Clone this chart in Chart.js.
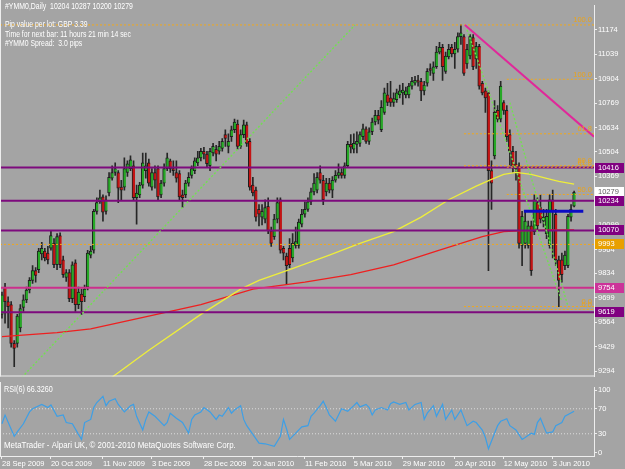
<!DOCTYPE html>
<html>
<head>
<meta charset="utf-8">
<script src="https://cdn.jsdelivr.net/npm/chart.js@4.4.1/dist/chart.umd.min.js"></script>
<style>
    body { margin: 0; background: #a4a4a4; width: 625px; height: 469px; overflow: hidden; }
    canvas { display: block; }
</style>
</head>
<body>
<canvas id="main" width="625" height="382"></canvas>
<canvas id="rsi" width="625" height="87"></canvas>
<script>
// daily bars of #YMM0, 28 Sep 2009 .. 8 Jun 2010
const opens = [9608,9758,9678,9662,9448,9448,9533,9646,9688,9742,9795,9849,9854,9940,9956,9945,9972,9999,9881,10041,
    9908,9811,9838,9694,9892,9662,9720,9705,9758,9934,9961,10175,10228,10255,10175,10276,10357,10389,10389,10308,
    10308,10389,10410,10426,10250,10266,10319,10399,10442,10308,10389,10410,10266,10330,10410,10453,10410,10389,10383,10266,
    10266,10330,10373,10399,10442,10469,10506,10490,10426,10496,10517,10506,10522,10597,10533,10586,10624,10656,10533,10597,
    10651,10560,10319,10292,10186,10143,10132,10202,10068,10036,10132,10239,9972,9929,9972,9918,9988,9988,10105,10159,
    10186,10228,10282,10292,10389,10346,10282,10330,10292,10346,10373,10389,10373,10426,10544,10517,10544,10549,10586,10629,
    10560,10613,10667,10704,10624,10720,10816,10800,10774,10790,10816,10827,10816,10816,10864,10880,10896,10891,10838,10880,
    10961,10934,10971,11051,11078,10945,11025,11078,11041,11067,11137,11137,10987,11030,11132,11014,11083,10880,10838,10827,
    10399,10480,10731,10683,10774,10731,10597,10506,10437,10426,9988,9999,9988,10095,10063,10223,10196,10121,10052,9988,
    10239,10159,9908,9908,9876,9876,10143,10204];
const highs = [9731,9779,9705,9678,9464,9608,9662,9715,9758,9811,9876,9865,9972,10004,9972,9982,10068,10025,10052,10057,
    9929,9854,9854,9897,9908,9758,9747,9769,9961,9982,10186,10250,10292,10266,10260,10389,10426,10442,10399,10346,
    10469,10453,10480,10453,10319,10335,10496,10496,10463,10410,10426,10426,10346,10437,10496,10463,10453,10453,10399,10292,
    10346,10389,10426,10469,10506,10522,10528,10506,10522,10549,10538,10560,10576,10624,10602,10645,10683,10677,10624,10677,
    10667,10576,10362,10308,10212,10212,10239,10250,10089,10159,10250,10250,9982,9945,10025,10052,10089,10132,10186,10228,
    10250,10303,10383,10389,10426,10373,10357,10357,10367,10399,10437,10410,10442,10560,10597,10602,10613,10613,10656,10640,
    10635,10688,10731,10731,10784,10854,10880,10891,10827,10848,10870,10880,10859,10880,10913,10918,10923,10907,10891,10961,
    10987,10998,11083,11105,11094,11051,11094,11094,11105,11158,11201,11148,11094,11148,11148,11105,11094,10891,10854,10838,
    10453,10784,10757,10891,10784,10757,10624,10533,10506,10442,10175,10175,10121,10121,10266,10250,10266,10186,10186,10266,
    10292,10186,9929,9945,9956,10159,10212,10287];
const lows = [9587,9560,9533,9427,9320,9427,9512,9624,9672,9726,9779,9785,9838,9908,9902,9886,9961,9865,9854,9865,
    9811,9790,9678,9672,9624,9640,9608,9678,9742,9918,9945,10159,10218,10121,10159,10260,10346,10373,10223,10239,
    10292,10367,10399,10239,10105,10250,10303,10357,10314,10292,10303,10239,10250,10314,10399,10389,10373,10335,10239,10196,
    10250,10314,10357,10383,10426,10453,10463,10421,10399,10480,10453,10490,10506,10533,10496,10560,10608,10517,10522,10581,
    10533,10292,10260,10121,10095,10100,10111,10052,9982,10020,10111,9945,9908,9774,9865,9897,9972,9972,10089,10143,
    10175,10212,10266,10276,10330,10212,10260,10276,10250,10335,10357,10357,10357,10415,10496,10496,10496,10533,10570,10549,
    10544,10597,10651,10656,10613,10709,10757,10752,10752,10774,10800,10763,10800,10800,10848,10870,10864,10784,10816,10864,
    10923,10896,10961,11041,10896,10934,11014,11025,10961,11051,11094,10923,10961,11014,10955,10961,10848,10816,10720,9849,
    10186,10463,10667,10667,10709,10560,10426,10389,10346,9972,9876,9972,9972,9822,10047,10068,10111,10089,10025,9972,
    9918,9876,9651,9785,9854,9865,10121,10200];
const closes = [9715,9678,9651,9448,9421,9598,9640,9688,9742,9795,9849,9822,9956,9972,9918,9908,10041,9881,10036,9881,
    9827,9838,9694,9881,9662,9731,9678,9747,9945,9956,10175,10223,10250,10170,10239,10362,10389,10410,10303,10292,
    10410,10437,10458,10250,10276,10319,10442,10426,10330,10389,10346,10255,10330,10410,10469,10410,10399,10357,10255,10250,
    10330,10362,10410,10453,10469,10506,10490,10437,10506,10533,10490,10533,10560,10576,10560,10624,10667,10533,10597,10651,
    10549,10308,10276,10143,10159,10175,10196,10068,9999,10132,10223,9961,9945,9876,9881,9999,10009,10116,10159,10186,
    10228,10282,10330,10362,10346,10239,10330,10292,10346,10373,10389,10373,10426,10544,10528,10549,10560,10597,10629,10560,
    10613,10667,10704,10677,10747,10827,10774,10774,10795,10827,10838,10843,10838,10864,10891,10896,10886,10838,10870,10945,
    10950,10971,11051,11078,10971,11030,11067,11041,11067,11137,11158,10934,11067,11137,10971,11083,10864,10827,10800,10399,
    10330,10720,10683,10864,10731,10586,10506,10426,10410,9999,10148,10121,10095,9849,10239,10095,10132,10143,10148,10239,
    10175,9908,9795,9827,9934,10148,10186,10279];

const dateBars = [0, 16, 33, 49, 66, 82, 99, 115, 131, 148, 164, 180];
const dateLabels = ["28 Sep 2009", "20 Oct 2009", "11 Nov 2009", "3 Dec 2009", "28 Dec 2009", "20 Jan 2010",
    "11 Feb 2010", "5 Mar 2010", "29 Mar 2010", "20 Apr 2010", "12 May 2010", "3 Jun 2010"];
const priceTicks = [11174, 11039, 10904, 10769, 10634, 10504, 10369, 10234, 10099, 9964, 9834, 9699, 9564, 9429, 9294];
const rsiTicks = [100, 70, 30, 0];

// moving averages (read at a few bars)
const yellowBars = [35, 48, 65, 78, 84, 94, 107, 117, 128, 137, 146, 155, 160, 164, 168, 173, 178, 182, 187];
const yellowValues = [9250, 9410, 9608, 9747, 9795, 9854, 9934, 9999, 10063, 10143, 10239, 10314, 10351, 10378, 10389, 10378, 10357, 10340, 10325];
const redBars = [0, 18, 29, 45, 65, 82, 99, 114, 128, 143, 157, 164, 169, 179, 187];
const redValues = [9485, 9507, 9528, 9587, 9662, 9747, 9785, 9827, 9881, 9961, 10036, 10063, 10068, 10073, 10073];

// RSI(6)
const rsiBars = [0,1,4,5,7,9,10,13,15,16,18,20,21,23,25,26,27,29,30,31,33,34,35,37,38,40,41,42,43,44,
    46,47,48,50,51,53,54,55,57,59,61,62,63,65,66,68,70,71,72,74,75,76,78,79,80,82,84,86,89,91,
    92,93,94,96,98,100,101,102,104,105,106,107,109,110,111,113,115,116,117,119,120,121,122,124,126,127,128,130,132,133,
    135,137,138,139,141,142,144,145,147,148,150,152,154,155,157,158,159,161,162,163,165,166,168,170,171,173,174,175,176,177,
    178,180,181,183,184,187];
const rsiValues = [46,60,26,33,46,65,70,77,72,76,58,60,48,46,29,21,48,53,72,80,90,75,82,86,77,65,70,75,77,58,
    36,53,65,58,53,43,48,63,55,48,31,53,60,65,72,65,53,60,58,72,63,68,75,53,43,29,15,14,10,26,
    53,38,21,31,41,43,58,63,75,82,72,60,50,60,70,66,75,80,73,77,72,60,68,72,68,78,81,77,80,68,
    77,80,53,63,75,58,77,53,68,53,68,43,50,48,36,24,6,31,43,50,54,43,36,21,24,31,29,48,55,43,
    31,33,43,48,58,66];

// objects on the chart
const purpleLevels = [10416, 10234, 10070, 9619];
const pinkLevel = 9754;
const orangeLevel = 9993;
const topLevel = 11201;
const fibLevels = [10902, 10602, 10426, 10418, 10268, 9651, 9635];
const fibTexts = ["100.0", "61.8", "50.0", "61.8", "50.0", "0.0", "0.0"];
const fibStarts = [165, 151, 151, 165, 165, 151, 165];
const trendBars = [151.3, 193.5];
const trendPrices = [11201, 10586];
const blueBars = [170.6, 190];
const bluePrice = 10175;
const fanLines = [[6.5, 9261, 115.4, 11201], [152, 11174, 183, 9678], [166, 10773, 185, 9651]];
const boxValues = [10416, 10279, 10234, 10070, 9993, 9754, 9619];
const boxKinds = ["purple", "bid", "purple", "purple", "orange", "pink", "purple"];

const titleText = "#YMM0,Daily  10204 10287 10200 10279";
const infoLines = ["Pip value per lot: GBP 3.39", "Time for next bar: 11 hours 21 min 14 sec", "#YMM0 Spread:  3.0 pips"];
const rsiTitle = "RSI(6) 66.3260";
const copyright = "MetaTrader - Alpari UK, \u00a9 2001-2010 MetaQuotes Software Corp.";

const FONT = "'Liberation Sans', Arial, sans-serif";
const X_MIN = -0.65, X_MAX = 193.5;
const AXIS = "#eeeeee";
const BOX_COLORS = {purple: "#800080", bid: "#ffffff", orange: "#e8a000", pink: "#cc3399"};

Chart.defaults.font.family = FONT;
Chart.defaults.font.size = 7.5;
Chart.defaults.color = "#ffffff";

function hline(level, from, color, width, dash, order) {
    return {
        type: "line", order: order,
        data: [{x: from, y: level}, {x: X_MAX, y: level}],
        borderColor: color, borderWidth: width, borderDash: dash, pointRadius: 0
    };
}
function segment(x1, y1, x2, y2, color, width, dash, order) {
    return {
        type: "line", order: order,
        data: [{x: x1, y: y1}, {x: x2, y: y2}],
        borderColor: color, borderWidth: width, borderDash: dash, pointRadius: 0
    };
}
// narrow text like the terminal's small font
function label(ctx, text, x, y, squeeze) {
    ctx.save();
    ctx.translate(x, y);
    ctx.scale(squeeze, 1);
    ctx.fillText(text, 0, 0);
    ctx.restore();
}

const bars = opens.map((o, i) => i);
const wickData = bars.map(i => ({x: i, y: [lows[i], highs[i]]}));
const bodyData = bars.map(i => ({x: i, y: [opens[i], closes[i]]}));
const bodyColors = bars.map(i => closes[i] >= opens[i] ? "#26a826" : "#c41414");

const mainOverlay = {
    id: "mainOverlay",
    afterDraw(chart) {
        const ctx = chart.ctx, y = chart.scales.y, area = chart.chartArea;
        ctx.save();
        ctx.strokeStyle = AXIS;
        ctx.lineWidth = 1;
        ctx.beginPath();
        ctx.moveTo(0.5, 0); ctx.lineTo(0.5, area.bottom);
        ctx.moveTo(0, area.bottom - 0.5); ctx.lineTo(area.right, area.bottom - 0.5);
        ctx.stroke();

        ctx.font = "9px " + FONT;
        ctx.fillStyle = "#ffffff";
        ctx.textAlign = "left";
        ctx.textBaseline = "middle";
        label(ctx, titleText, 5, 7, 0.77);
        infoLines.forEach((t, k) => label(ctx, t, 5, 25 + k * 9.3, 0.76));

        ctx.font = "7.5px " + FONT;
        ctx.fillStyle = "#eaa31a";
        ctx.textAlign = "right";
        ctx.textBaseline = "bottom";
        ctx.fillText("100.0", area.right - 2, y.getPixelForValue(topLevel) - 1);
        fibLevels.forEach((v, k) => ctx.fillText(fibTexts[k], area.right - 2, y.getPixelForValue(v) - 1));

        ctx.textAlign = "left";
        ctx.textBaseline = "middle";
        boxValues.forEach((v, k) => {
            const py = Math.round(y.getPixelForValue(v));
            ctx.fillStyle = BOX_COLORS[boxKinds[k]];
            ctx.fillRect(area.right + 1, py - 5, 29, 10);
            ctx.fillStyle = boxKinds[k] === "bid" ? "#606060" : "#ffffff";
            ctx.fillText(String(v), area.right + 4, py);
        });
        ctx.restore();
    }
};

const rsiOverlay = {
    id: "rsiOverlay",
    afterDraw(chart) {
        const ctx = chart.ctx, area = chart.chartArea;
        ctx.save();
        ctx.strokeStyle = AXIS;
        ctx.beginPath();
        ctx.moveTo(0.5, 0); ctx.lineTo(0.5, area.bottom);
        ctx.stroke();
        ctx.font = "9px " + FONT;
        ctx.fillStyle = "#ffffff";
        ctx.textBaseline = "middle";
        label(ctx, rsiTitle, 4, 8, 0.8);
        label(ctx, copyright, 4, 64, 0.88);
        ctx.restore();
    }
};

new Chart(document.getElementById("main"), {
    type: "bar",
    data: {
        datasets: [
            segment(blueBars[0], bluePrice, blueBars[1], bluePrice, "#0c0cc4", 3, [], 1),
            segment(trendBars[0], trendPrices[0], trendBars[1], trendPrices[1], "#e0289a", 2, [], 2),
            ...fanLines.map(f => segment(f[0], f[1], f[2], f[3], "#72e050", 1.4, [2, 2], 3)),
            ...fibLevels.map((v, k) => hline(v, fibStarts[k], "#f0a81c", 1, [2, 2], 4)),
            hline(topLevel, X_MIN, "#f0a81c", 1, [2, 2], 4),
            hline(orangeLevel, X_MIN, "#f0a81c", 1, [2, 2], 4),
            ...purpleLevels.map(v => hline(v, X_MIN, "#7d0a7d", 2, [], 5)),
            hline(pinkLevel, X_MIN, "#cc2f8c", 2, [], 5),
            {
                type: "line", order: 6, data: yellowBars.map((b, k) => ({x: b, y: yellowValues[k]})),
                borderColor: "#eeee3a", borderWidth: 1.3, pointRadius: 0
            },
            {
                type: "line", order: 7, data: redBars.map((b, k) => ({x: b, y: redValues[k]})),
                borderColor: "#ee2020", borderWidth: 1.3, pointRadius: 0
            },
            {
                type: "bar", order: 8, data: bodyData, backgroundColor: bodyColors,
                borderColor: "#1e1e1e", borderWidth: {left: 1, right: 0, top: 1, bottom: 1}, borderSkipped: false,
                barThickness: 3, minBarLength: 2, grouped: false
            },
            {
                type: "bar", order: 9, data: wickData, backgroundColor: "#262626",
                barThickness: 1, grouped: false
            }
        ]
    },
    options: {
        responsive: false,
        animation: false,
        devicePixelRatio: 1,
        layout: {padding: 0, autoPadding: false},
        plugins: {legend: {display: false}, tooltip: {enabled: false}},
        scales: {
            x: {type: "linear", min: X_MIN, max: X_MAX, offset: false, display: false},
            y: {
                position: "right", min: 9266, max: 11308,
                afterBuildTicks: s => { s.ticks = priceTicks.map(v => ({value: v})); },
                afterFit: s => { s.width = 31; },
                ticks: {padding: 1, color: "#ffffff", callback: v => String(v)},
                grid: {drawOnChartArea: false, tickLength: 3, color: AXIS},
                border: {display: true, color: AXIS}
            }
        }
    },
    plugins: [mainOverlay]
});

new Chart(document.getElementById("rsi"), {
    type: "line",
    data: {
        datasets: [
            {
                order: 1, data: rsiBars.map((b, k) => ({x: b, y: rsiValues[k]})),
                borderColor: "#3d9fe6", borderWidth: 1.2, pointRadius: 0
            },
            {
                order: 2, data: [{x: X_MIN, y: 70}, {x: X_MAX, y: 70}],
                borderColor: "#dcdcdc", borderWidth: 1, borderDash: [1, 2], pointRadius: 0
            },
            {
                order: 2, data: [{x: X_MIN, y: 30}, {x: X_MAX, y: 30}],
                borderColor: "#dcdcdc", borderWidth: 1, borderDash: [1, 2], pointRadius: 0
            }
        ]
    },
    options: {
        responsive: false,
        animation: false,
        devicePixelRatio: 1,
        layout: {padding: 0, autoPadding: false},
        plugins: {legend: {display: false}, tooltip: {enabled: false}},
        scales: {
            x: {
                type: "linear", min: X_MIN, max: X_MAX, offset: false,
                afterBuildTicks: s => { s.ticks = dateBars.map(v => ({value: v})); },
                afterFit: s => { s.height = 13; },
                ticks: {
                    autoSkip: false, maxRotation: 0, minRotation: 0, align: "start", padding: 0,
                    color: "#ffffff",
                    callback: v => { const k = dateBars.indexOf(v); return k >= 0 ? dateLabels[k] : ""; }
                },
                grid: {drawOnChartArea: false, tickLength: 3, color: AXIS},
                border: {display: true, color: AXIS}
            },
            y: {
                position: "right", min: -5.56, max: 104.07,
                afterBuildTicks: s => { s.ticks = rsiTicks.map(v => ({value: v})); },
                afterFit: s => { s.width = 31; },
                ticks: {padding: 1, color: "#ffffff"},
                grid: {drawOnChartArea: false, tickLength: 3, color: AXIS},
                border: {display: true, color: AXIS}
            }
        }
    },
    plugins: [rsiOverlay]
});
</script>
</body>
</html>
